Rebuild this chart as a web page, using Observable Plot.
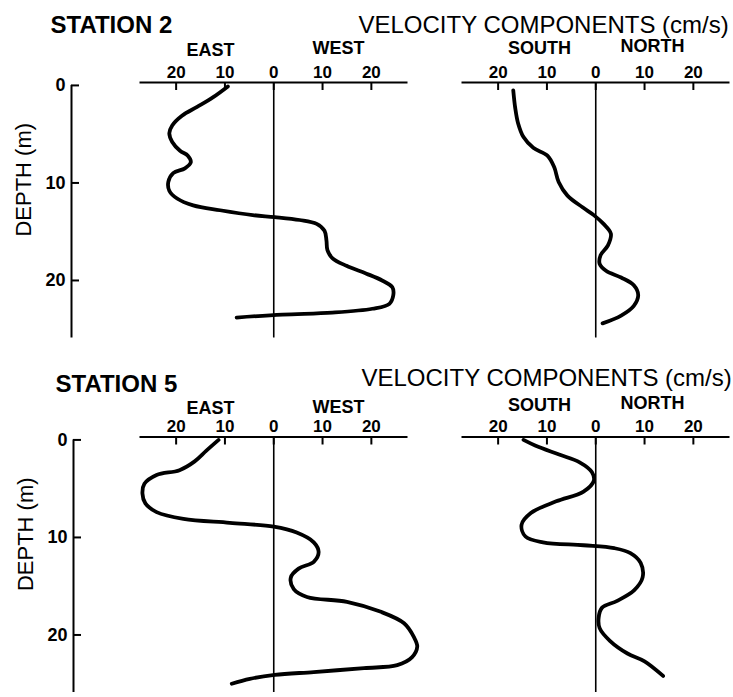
<!DOCTYPE html>
<html><head><meta charset="utf-8">
<script src="https://cdn.jsdelivr.net/npm/d3@7"></script>
<script src="https://cdn.jsdelivr.net/npm/@observablehq/plot@0.6"></script>
<style>
html,body{margin:0;padding:0;background:#fff;}
#chart{width:733px;height:697px;overflow:hidden;background:#fff;}
</style></head><body><div id="chart"></div>
<script>
// ---------- DATA ----------
const stationIds = ["2", "5"];
const stationNames = ["STATION 2", "STATION 5"];
const chartTitle = "VELOCITY COMPONENTS (cm/s)";
const depthLabel = "DEPTH (m)";
const components = ["EW", "NS"];
const ewLabels = ["EAST", "WEST"];
const nsLabels = ["SOUTH", "NORTH"];
const velocityTicks = [-20, -10, 0, 10, 20];   // labels shown as absolute values
const depthTicks = [0, 10, 20];

// Station 2, east-west component (west positive, east negative)
const st2EWDepth = [0.1,1.2,2.2,3.1,4.1,4.9,5.8,6.7,7.2,7.9,8.5,9.0,9.9,10.8,11.6,12.3,12.8,13.3,13.5,13.8,14.2,14.9,15.9,16.9,17.7,18.5,19.3,20.0,20.7,21.5,22.4,22.9,23.3,23.5,23.8];
const st2EW      = [-9.4,-12.4,-15.7,-18.8,-20.8,-21.4,-20.8,-19.2,-17.6,-17.0,-18.2,-20.6,-21.6,-21.4,-19.8,-16.5,-11.0,-4.3,0.2,5.3,8.8,10.4,10.8,11.0,12.0,14.9,19.0,22.2,24.3,24.5,23.7,20.2,12.0,1.8,-7.6];
// Station 2, north-south component (north positive, south negative)
const st2NSDepth = [0.5,2.3,3.9,5.3,6.4,7.2,8.4,9.9,11.3,12.5,13.3,14.2,15.2,16.4,17.4,18.3,19.0,19.7,20.5,21.5,22.6,23.6,24.4];
const st2NS      = [-16.9,-16.5,-15.9,-14.8,-12.8,-9.9,-8.5,-7.6,-5.8,-2.7,-0.4,1.6,3.1,2.5,1.0,0.8,2.1,5.2,7.8,8.7,7.8,5.2,1.4];
// Station 5, east-west component
const st5EWDepth = [0.0,1.1,2.2,3.1,3.6,4.5,5.5,6.5,7.4,8.1,8.5,8.9,9.5,10.5,11.5,12.5,13.2,14.1,15.3,16.1,16.6,17.6,18.8,20.2,21.2,22.3,23.1,23.4,23.8,24.1,24.5,25.0];
const st5EW      = [-11.3,-13.8,-16.2,-19.3,-24.0,-26.5,-26.9,-26.3,-24.0,-18.5,-9.0,0.0,4.7,8.2,9.2,8.2,5.1,3.5,4.1,6.8,15.0,21.8,26.7,28.7,29.4,28.3,25.3,18.5,8.2,0.2,-4.9,-8.6];
// Station 5, north-south component
const st5NSDepth = [0.0,0.6,1.5,2.3,3.3,4.2,5.3,6.3,7.5,8.7,9.9,10.5,10.8,11.1,11.6,12.6,14.1,15.4,16.5,17.2,18.2,19.3,20.6,21.9,22.7,24.2];
const st5NS      = [-14.8,-12.3,-7.5,-3.3,-0.8,-0.4,-2.5,-8.1,-13.3,-15.2,-14.4,-10.8,-2.5,3.8,7.1,9.2,9.6,7.9,4.4,1.3,0.6,0.8,2.9,6.5,10.0,13.8];

// ---------- table built from the arrays ----------
function rowsOf(st, comp, depth, vel) {
  return depth.map((d, i) => ({st, comp, key: st + comp, depth: d, vel: vel[i]}));
}
const curveData = [
  ...rowsOf("2", "EW", st2EWDepth, st2EW), ...rowsOf("2", "NS", st2NSDepth, st2NS),
  ...rowsOf("5", "EW", st5EWDepth, st5EW), ...rowsOf("5", "NS", st5NSDepth, st5NS)
];

// ---------- LAYOUT (pixels) ----------
const bandW = 266, gapX = 56, bandH = 255.5, gapY = 99;
const xDomain = [-27.3, 27.2];
const yDomain = [-0.3, 25.9];
const dirDx = {EW: [70, 198], NS: [77, 190]};
const stationLayout = [
  {titleDx: -90, titleDy: -50, velDx: 218, velDy: -50, depthDx: -116.5, depthDy: -30.5, shift: -69,
   dirDy: {EW: [-27, -29], NS: [-29, -31]}},
  {titleDx: -85, titleDy: -45.5, velDx: 221, velDy: -51.5, depthDx: -114.5, depthDy: -30.5, shift: -67,
   dirDy: {EW: [-23.5, -24.5], NS: [-26.5, -28.5]}}
];

const marks = [
  Plot.frame({anchor: "top", stroke: "black", strokeWidth: 2}),
  Plot.tickX(velocityTicks, {x: d => d, insetBottom: bandH - 8, stroke: "black", strokeWidth: 2}),
  Plot.text(velocityTicks, {x: d => d, text: d => String(Math.abs(d)), frameAnchor: "top", lineAnchor: "bottom",
    dy: -5, fontSize: 17, fontWeight: "bold", fill: "black"}),
  Plot.ruleX([0], {stroke: "black", strokeWidth: 1.6}),
  Plot.line(curveData, {x: "vel", y: "depth", fx: "comp", fy: "st", z: "key", curve: "catmull-rom",
    stroke: "black", strokeWidth: 3.8, strokeLinecap: "round", strokeLinejoin: "round"})
];

stationIds.forEach((id, si) => {
  const L = stationLayout[si];
  const row = [{st: id, comp: "EW"}];
  const tickRows = depthTicks.map(d => ({st: id, comp: "EW", d}));
  marks.push(
    // depth axis (left of the east-west panel)
    Plot.ruleX(row, {x: () => xDomain[0], y1: () => 0, y2: () => yDomain[1], fx: "comp", fy: "st",
      dx: L.shift, stroke: "black", strokeWidth: 2}),
    Plot.tickY(tickRows, {y: "d", fx: "comp", fy: "st", dx: L.shift, insetRight: bandW - 8,
      stroke: "black", strokeWidth: 2}),
    Plot.text(tickRows, {y: "d", text: r => String(r.d), fx: "comp", fy: "st", frameAnchor: "left",
      dx: L.shift - 6, textAnchor: "end", lineAnchor: "middle", fontSize: 18, fontWeight: "bold", fill: "black"}),
    // titles
    Plot.text(row, {text: () => stationNames[si], fx: "comp", fy: "st", frameAnchor: "top-left",
      dx: L.titleDx, dy: L.titleDy, textAnchor: "start", lineAnchor: "bottom", fontSize: 24, fontWeight: "bold",
      fill: "black", ariaLabel: "station-title"}),
    Plot.text(row, {text: () => chartTitle, fx: "comp", fy: "st", frameAnchor: "top-left",
      dx: L.velDx, dy: L.velDy, textAnchor: "start", lineAnchor: "bottom", fontSize: 24, fill: "black"}),
    Plot.text(row, {text: () => depthLabel, fx: "comp", fy: "st", frameAnchor: "left", rotate: -90,
      dx: L.depthDx, dy: L.depthDy, textAnchor: "middle", lineAnchor: "middle", fontSize: 22, fill: "black",
      ariaLabel: "depth-label"})
  );
  components.forEach(c => {
    const labs = c === "EW" ? ewLabels : nsLabels;
    labs.forEach((lab, i) => marks.push(
      Plot.text([{st: id, comp: c}], {text: () => lab, fx: "comp", fy: "st", frameAnchor: "top-left",
        dx: dirDx[c][i], dy: L.dirDy[c][i], textAnchor: "middle", lineAnchor: "bottom",
        fontSize: 18, fontWeight: "bold", fill: "black"})
    ));
  });
});

const svg = Plot.plot({
  width: 733, height: 697,
  marginLeft: 140, marginRight: 5, marginTop: 82, marginBottom: 5,
  fx: {domain: components, paddingInner: gapX / (bandW + gapX), paddingOuter: 0, round: false, axis: null},
  fy: {domain: stationIds, paddingInner: gapY / (bandH + gapY), paddingOuter: 0, round: false, axis: null},
  x: {domain: xDomain, axis: null},
  y: {domain: yDomain, reverse: true, axis: null},
  style: {fontFamily: "Liberation Sans, Arial, sans-serif", color: "black", background: "white"},
  marks
});
svg.querySelectorAll('g[aria-label="station-title"] text').forEach(t => {
  t.style.letterSpacing = "1.2px"; t.style.wordSpacing = "6px";
});
svg.querySelectorAll('g[aria-label="depth-label"] text').forEach(t => {
  t.style.letterSpacing = "4px"; t.style.wordSpacing = "22px";
});
document.getElementById("chart").appendChild(svg);
</script></body></html>
